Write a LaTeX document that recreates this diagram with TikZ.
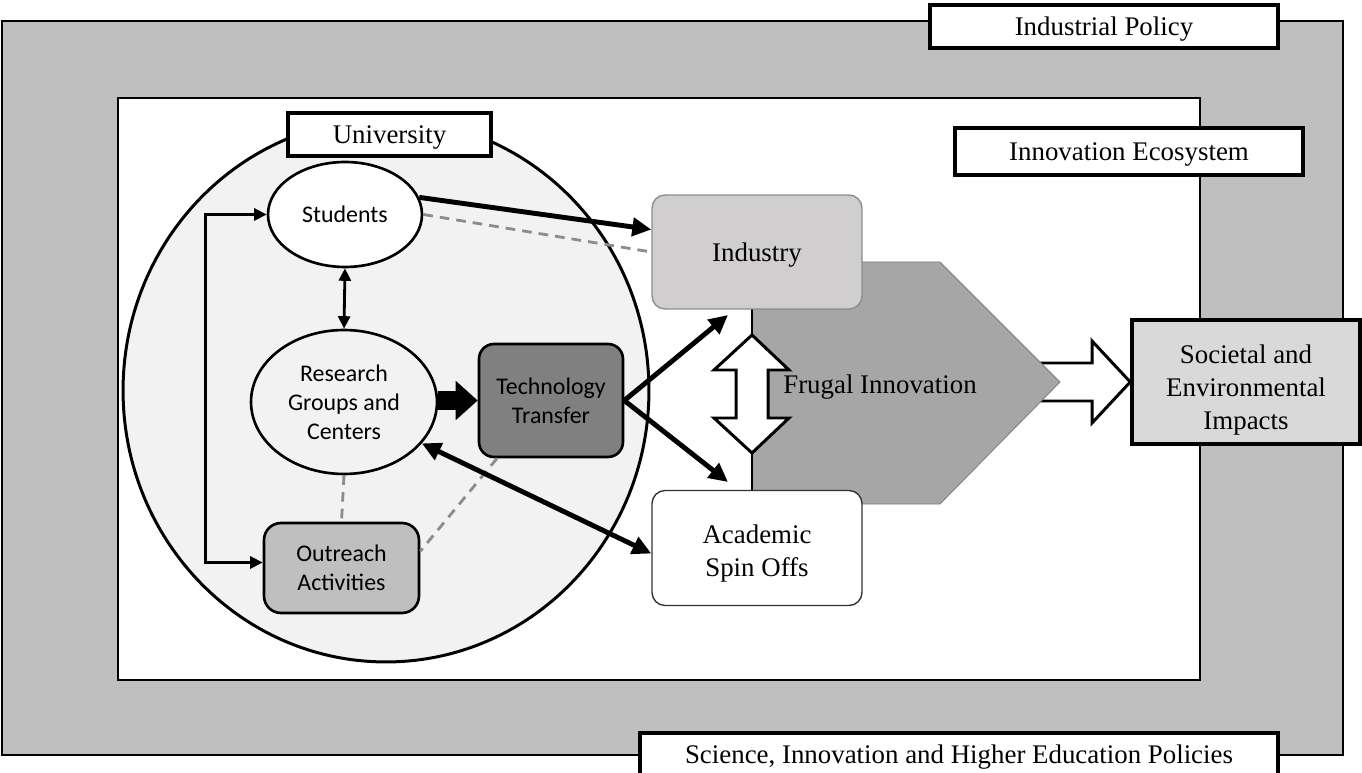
\documentclass[tikz,border=0pt]{standalone}
\usepackage{fontspec}
\setmainfont{Liberation Serif}
\setsansfont{Carlito}
\usepackage{tikz}
\usetikzlibrary{shapes.geometric,arrows.meta}

\definecolor{policygray}{HTML}{BFBFBF}
\definecolor{unigray}{HTML}{F2F2F2}
\definecolor{transfergray}{HTML}{808080}
\definecolor{outreachgray}{HTML}{BFBFBF}
\definecolor{industrygray}{HTML}{D0CECE}
\definecolor{frugalgray}{HTML}{A6A6A6}
\definecolor{impactgray}{HTML}{D9D9D9}
\definecolor{dashgray}{HTML}{8C8C8C}

\begin{document}
\begin{tikzpicture}[
		x=0.02cm, y=-0.02cm,
		every node/.style={inner sep=0pt, align=center, text depth=-2.4pt, font=\fontsize{15.3}{18.6}\selectfont},
		labelbox/.style={rectangle, draw, line width=2pt, fill=white},
		unit/.style={draw, line width=1.5pt, text depth=, font=\sffamily\fontsize{13.6}{16.4}\selectfont},
		actor/.style={rectangle, rounded corners=0.26cm, minimum width=4.2cm, line width=0.8pt},
		hollow/.style={draw, fill=white, line width=1.7pt, line join=miter},
		flow/.style={line width=2.8pt, -{Triangle[length=0.38cm, width=0.36cm]}},
		exchange/.style={line width=2.8pt, {Triangle[length=0.38cm, width=0.36cm]}-{Triangle[length=0.38cm, width=0.36cm]}},
		loopflow/.style={line width=1.6pt, {Triangle[length=0.25cm, width=0.24cm]}-{Triangle[length=0.25cm, width=0.24cm]}},
		fat/.style={line width=0.4cm, -{Triangle[length=0.44cm, width=0.76cm]}},
		weak/.style={draw=dashgray, line width=1.6pt, dash pattern=on 5.5pt off 4pt}
	]
  \useasboundingbox (0,0) rectangle (1362,773);
  \draw[fill=policygray, line width=1pt] (2,21) rectangle (1343,755);
  \draw[fill=white, line width=1pt] (118,98) rectangle (1200,680);
  \node (policy) [labelbox, minimum width=6.96cm, minimum height=0.86cm] at (1104,26.5) {Industrial Policy};
  \node (ecosystem) [labelbox, minimum width=6.96cm, minimum height=0.94cm] at (1129,151.5) {Innovation Ecosystem};
  \node (science) [labelbox, minimum width=12.76cm, minimum height=0.84cm] at (959,754) {Science, Innovation and Higher Education Policies};
  \node (impacts) [labelbox, fill=impactgray, minimum width=4.56cm, minimum height=2.48cm] at (1246,382) {\rule{0pt}{16.4pt}Societal and\\Environmental\\Impacts};

  \draw[hollow] (1030,363) -- (1092,363) -- (1092,341) -- (impacts.west) -- (1092,423) -- (1092,401) -- (1030,401) -- cycle;
  \draw[fill=frugalgray, draw=black!50, line width=0.5pt] (752,262) -- (940,262) -- (1060,382) -- (940,504) -- (752,504) -- cycle;
  \draw[line width=1.4pt] (752,262) -- (752,504);
  \draw[hollow] (752,335) -- (789,370) -- (768,370) -- (768,418) -- (789,418) -- (752,453) -- (714,418) -- (736,418) -- (736,370) -- (714,370) -- cycle;
  \node (frugal) at (880,384) {Frugal Innovation};

  \node (university) [ellipse, draw, line width=1.7pt, fill=unigray, minimum width=10.52cm, minimum height=10.86cm] at (386,390.5) {};
  \node (university_label) [labelbox, minimum width=4.06cm, minimum height=0.86cm] at (389.5,134.5) {University};

  \node (industry) [actor, fill=industrygray, draw=black!45, minimum height=2.28cm] at (757,252) {Industry};
  \node (spinoff) [actor, fill=white, draw=black!80, minimum height=2.3cm] at (757,548) {\rule{0pt}{14pt}Academic\\Spin Offs};

  \node (students) [unit, ellipse, fill=white, minimum width=3.08cm, minimum height=2.1cm] at (345,214.5) {Students};
  \node (research) [unit, ellipse, fill=unigray, minimum width=3.72cm, minimum height=2.88cm] at (344,402) {Research\\Groups and\\Centers};
  \node (transfer) [unit, rectangle, rounded corners=0.3cm, fill=transfergray, minimum width=2.88cm, minimum height=2.26cm] at (551,400.5) {Technology\\Transfer};
  \node (outreach) [unit, rectangle, rounded corners=0.34cm, fill=outreachgray, minimum width=3.1cm, minimum height=1.8cm] at (341.5,568) {Outreach\\Activities};

  \coordinate (to_industry) at (728,315);
  \coordinate (to_spinoff) at (728,482);

  \draw[weak] (students.east) -- (industry.west);
  \draw[weak] (research.south) -- (outreach.north);
  \draw[weak] (transfer.227) -- (outreach.12);
  \draw[flow] (students.13) -- (industry.168);
  \draw[loopflow] (students.south) -- (research.north);
  \draw[loopflow] (students.west) -- ++(-61,0) |- (outreach.176);
  \draw[fat] (research.east |- transfer.west) -- (transfer.west);
  \draw[exchange] (research.-28) -- (spinoff.183);
  \draw[flow] (transfer.east) -- (to_industry);
  \draw[flow] (transfer.east) -- (to_spinoff);
\end{tikzpicture}
\end{document}
